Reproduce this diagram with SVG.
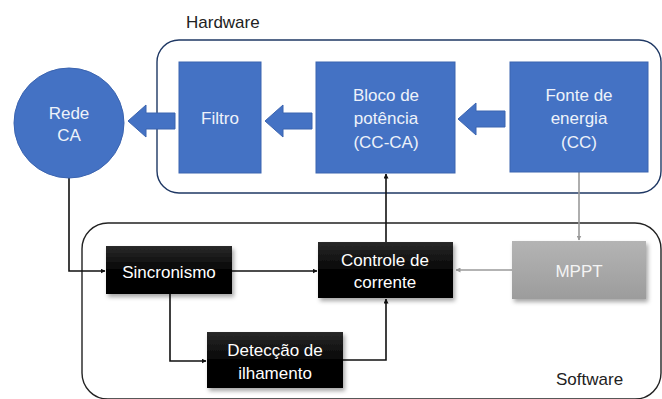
<svg xmlns="http://www.w3.org/2000/svg" width="662" height="399" viewBox="0 0 662 399">
<style>
.t{font-family:"Liberation Sans",Arial,sans-serif;font-size:17px;text-anchor:middle}
.lt{fill:#eef2fa}
.w{fill:#ffffff}
.lbl{font-family:"Liberation Sans",Arial,sans-serif;font-size:17px;fill:#222}
.blue{fill:#4472C4;stroke:#3b64b0;stroke-width:1}
.ln{fill:none;stroke:#111;stroke-width:1.6}
.gl{fill:none;stroke:#9a9a9a;stroke-width:1.6}
</style>
<defs>
<linearGradient id="gb" x1="0" y1="0" x2="0" y2="1"><stop offset="0" stop-color="#2a2a2a"/><stop offset="0.5" stop-color="#050505"/><stop offset="1" stop-color="#000"/></linearGradient>
<linearGradient id="gg" x1="0" y1="0" x2="0" y2="1"><stop offset="0" stop-color="#b4b4b4"/><stop offset="1" stop-color="#9c9c9c"/></linearGradient>
<marker id="ab" viewBox="0 0 10 10" refX="9" refY="5" markerWidth="5" markerHeight="5" orient="auto" markerUnits="userSpaceOnUse"><path d="M0,0 L10,5 L0,10 z" fill="#111"/></marker>
<marker id="ag" viewBox="0 0 10 10" refX="9" refY="5" markerWidth="5" markerHeight="5" orient="auto" markerUnits="userSpaceOnUse"><path d="M0,0 L10,5 L0,10 z" fill="#9a9a9a"/></marker>
<filter id="sh" x="-10%" y="-10%" width="130%" height="140%"><feDropShadow dx="2" dy="3" stdDeviation="2" flood-color="#000" flood-opacity="0.35"/></filter>
</defs>

<g id="hardware-group">
<rect x="157" y="40" width="504" height="153" rx="22" fill="none" stroke="#1f3864" stroke-width="1.4"/>
<text class="lbl" x="186" y="28">Hardware</text>
</g>
<g id="software-group">
<rect x="82" y="223" width="579" height="176" rx="26" fill="none" stroke="#222" stroke-width="1.4"/>
<text class="lbl" x="556" y="385">Software</text>
</g>

<g id="connectors">
<path class="blue" d="M128,121 L146,105 L146,113 L175,113 L175,129 L146,129 L146,137 z"/>
<path class="blue" d="M265,121 L283,105 L283,113 L312,113 L312,129 L283,129 L283,137 z"/>
<path class="blue" d="M458,119 L476,103 L476,111 L505,111 L505,127 L476,127 L476,135 z"/>
<polyline class="ln" points="69,178 69,271 105,271" marker-end="url(#ab)"/>
<line class="ln" x1="232" y1="271" x2="317" y2="271" marker-end="url(#ab)"/>
<polyline class="ln" points="170,294 170,361 206,361" marker-end="url(#ab)"/>
<polyline class="ln" points="343,360 386,360 386,299" marker-end="url(#ab)"/>
<line class="ln" x1="386" y1="242" x2="386" y2="174" marker-end="url(#ab)"/>
<line class="gl" x1="579" y1="172" x2="579" y2="240" marker-end="url(#ag)"/>
<line class="gl" x1="512" y1="270" x2="456" y2="270" marker-end="url(#ag)"/>
</g>

<g id="rede-ca">
<circle cx="69" cy="123" r="55" class="blue"/>
<text class="t lt" x="69" y="119">Rede</text>
<text class="t lt" x="69" y="141">CA</text>
</g>
<g id="filtro">
<rect x="179" y="62" width="82" height="111" class="blue"/>
<text class="t lt" x="220" y="124">Filtro</text>
</g>
<g id="bloco-potencia">
<rect x="316" y="62" width="139" height="111" class="blue"/>
<text class="t lt" x="386" y="101">Bloco de</text>
<text class="t lt" x="386" y="124">potência</text>
<text class="t lt" x="386" y="148">(CC-CA)</text>
</g>
<g id="fonte-energia">
<rect x="510" y="62" width="138" height="110" class="blue"/>
<text class="t lt" x="579" y="101">Fonte de</text>
<text class="t lt" x="579" y="124">energia</text>
<text class="t lt" x="579" y="148">(CC)</text>
</g>
<g id="sincronismo">
<rect x="106" y="246" width="126" height="48" fill="url(#gb)" filter="url(#sh)"/>
<text class="t w" x="169" y="278">Sincronismo</text>
</g>
<g id="controle-corrente">
<rect x="318" y="242" width="135" height="56" fill="url(#gb)" filter="url(#sh)"/>
<text class="t w" x="385" y="266">Controle de</text>
<text class="t w" x="385" y="288">corrente</text>
</g>
<g id="deteccao-ilhamento">
<rect x="207" y="332" width="136" height="56" fill="url(#gb)" filter="url(#sh)"/>
<text class="t w" x="275" y="356">Detecção de</text>
<text class="t w" x="275" y="379">ilhamento</text>
</g>
<g id="mppt">
<rect x="512" y="241" width="134" height="58" fill="url(#gg)" filter="url(#sh)"/>
<text class="t" x="579" y="277" fill="#f4f4f4">MPPT</text>
</g>
</svg>
